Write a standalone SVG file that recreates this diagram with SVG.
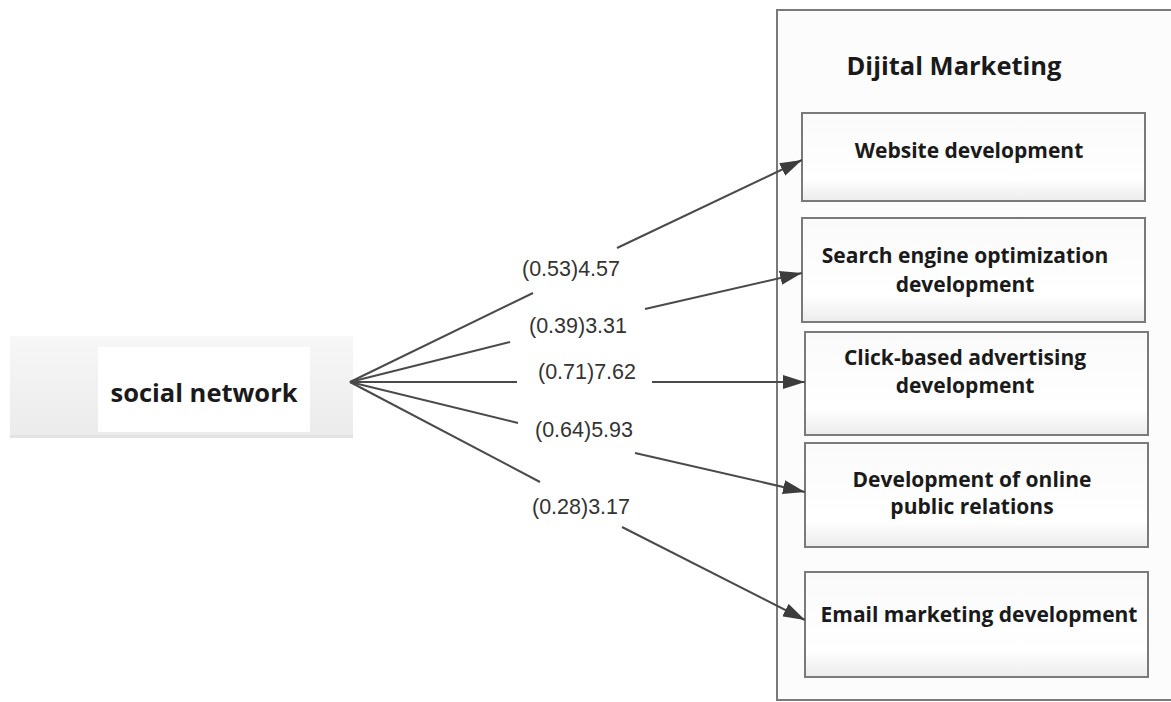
<svg xmlns="http://www.w3.org/2000/svg" width="1171" height="702" viewBox="0 0 1171 702">
<defs>
<linearGradient id="boxg" x1="0" y1="0" x2="0" y2="1">
<stop offset="0" stop-color="#fafafa"/>
<stop offset="0.75" stop-color="#ffffff"/>
<stop offset="1" stop-color="#ececec"/>
</linearGradient>
<linearGradient id="srcg" x1="0" y1="0" x2="0" y2="1">
<stop offset="0" stop-color="#f7f7f7"/>
<stop offset="1" stop-color="#ebebeb"/>
</linearGradient>
<marker id="arr" viewBox="0 0 22 14" refX="22" refY="7" markerWidth="22" markerHeight="14" markerUnits="userSpaceOnUse" orient="auto">
<path d="M0,0 L22,7 L0,14 Z" fill="#3c3c3c"/>
</marker>
</defs>
<style>
.box{fill:url(#boxg);stroke:#7a7a7a;stroke-width:2}
.bt{font-family:"Open Sans","Noto Sans",sans-serif;font-weight:bold;font-size:21px;fill:#1a1a1a;text-anchor:middle}
.lbl{font-family:"Liberation Sans",Arial,sans-serif;font-size:21.5px;fill:#333;text-anchor:middle}
.ln{stroke:#4a4a4a;stroke-width:2;fill:none}
</style>
<rect width="1171" height="702" fill="#ffffff"/>

<g id="dijital-marketing">
<rect x="777" y="10" width="400" height="690" fill="#fcfcfc" stroke="#7a7a7a" stroke-width="2"/>
<text x="954" y="75" font-family="Open Sans, Noto Sans, sans-serif" font-weight="bold" font-size="25.5" fill="#1a1a1a" text-anchor="middle">Dijital Marketing</text>
</g>

<g id="social-network">
<rect x="10" y="336" width="343" height="100" fill="url(#srcg)"/>
<rect x="10" y="435" width="343" height="3" fill="#e2e2e2"/>
<rect x="98" y="347" width="212" height="85" fill="#ffffff"/>
<text x="204" y="402" font-family="Open Sans, Noto Sans, sans-serif" font-weight="bold" font-size="25.5" fill="#1a1a1a" text-anchor="middle">social network</text>
</g>

<g id="website">
<rect class="box" x="802" y="113" width="343" height="88"/>
<text class="bt" x="969" y="158">Website development</text>
</g>

<g id="seo">
<rect class="box" x="802" y="218" width="343" height="104"/>
<text class="bt" x="965" y="263">Search engine optimization</text>
<text class="bt" x="965" y="292">development</text>
</g>

<g id="click">
<rect class="box" x="805" y="332" width="343" height="103"/>
<text class="bt" x="965" y="365">Click-based advertising</text>
<text class="bt" x="965" y="393">development</text>
</g>

<g id="pr">
<rect class="box" x="805" y="443" width="343" height="104"/>
<text class="bt" x="972" y="487">Development of online</text>
<text class="bt" x="972" y="514">public relations</text>
</g>

<g id="email">
<rect class="box" x="805" y="572" width="343" height="105"/>
<text class="bt" x="979" y="622">Email marketing development</text>
</g>

<g id="connectors">
<line class="ln" x1="350" y1="382" x2="533" y2="293"/>
<line class="ln" x1="617" y1="248" x2="802" y2="160" marker-end="url(#arr)"/>
<line class="ln" x1="350" y1="382" x2="510" y2="342"/>
<line class="ln" x1="645" y1="309" x2="802" y2="273" marker-end="url(#arr)"/>
<line class="ln" x1="350" y1="382" x2="517" y2="382"/>
<line class="ln" x1="652" y1="382" x2="805" y2="382" marker-end="url(#arr)"/>
<line class="ln" x1="350" y1="382" x2="518" y2="423"/>
<line class="ln" x1="635" y1="453" x2="805" y2="492" marker-end="url(#arr)"/>
<line class="ln" x1="350" y1="382" x2="540" y2="482"/>
<line class="ln" x1="622" y1="527" x2="805" y2="620" marker-end="url(#arr)"/>
<text class="lbl" x="571" y="276">(0.53)4.57</text>
<text class="lbl" x="578" y="333">(0.39)3.31</text>
<text class="lbl" x="587" y="379">(0.71)7.62</text>
<text class="lbl" x="584" y="437">(0.64)5.93</text>
<text class="lbl" x="581" y="514">(0.28)3.17</text>
</g>
</svg>
